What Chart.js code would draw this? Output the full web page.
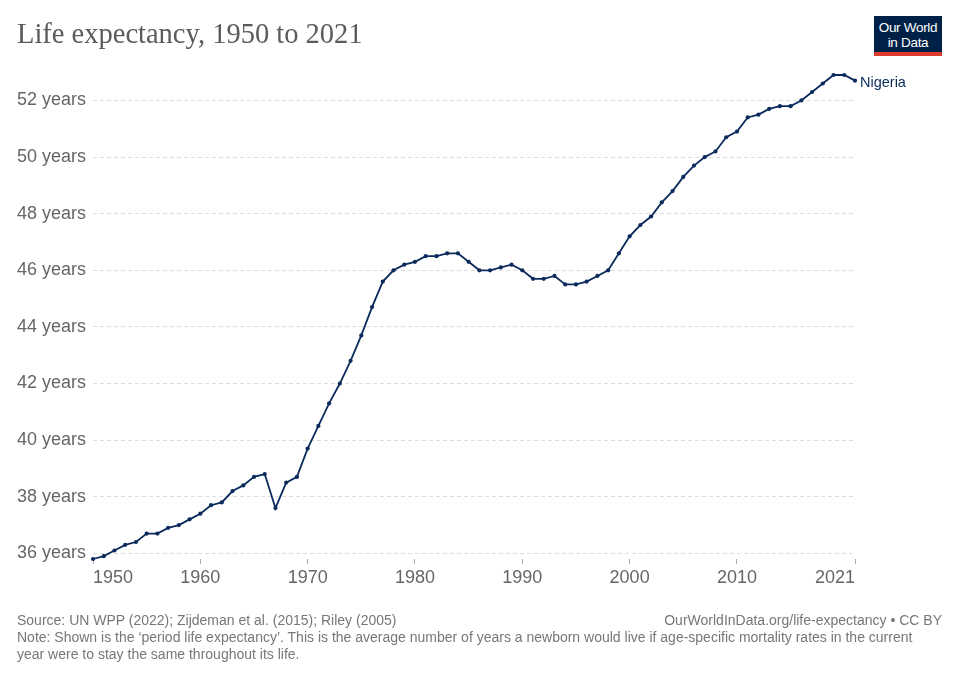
<!DOCTYPE html>
<html>
<head>
<meta charset="utf-8">
<script src="https://cdn.jsdelivr.net/npm/chart.js@4.4.1/dist/chart.umd.min.js"></script>
<style>
  html, body { margin: 0; padding: 0; background: #fff; }
  body { width: 960px; height: 678px; position: relative; overflow: hidden; font-family: "Liberation Sans", Arial, sans-serif; }
  #chart { position: absolute; left: 0; top: 0; }
  .title { position: absolute; left: 17px; top: 18px; font-family: "Liberation Serif", serif; font-size: 28.5px; color: #5b5b5b; white-space: nowrap; }
  .logo { position: absolute; left: 874px; top: 16px; width: 68px; height: 40px; background: #002147; color: #fff; text-align: center; font-size: 13.5px; line-height: 15px; box-sizing: border-box; padding-top: 4px; letter-spacing: -0.3px; }
  .logo .bar { position: absolute; left: 0; bottom: 0; width: 100%; height: 4px; background: #dc3a2a; }
  .foot { position: absolute; font-size: 14px; color: #777; white-space: nowrap; }
</style>
</head>
<body>
<canvas id="chart" width="960" height="678"></canvas>
<div class="title">Life expectancy, 1950 to 2021</div>
<div class="logo">Our World<br>in Data<div class="bar"></div></div>
<div class="foot" style="left:17px; top:612px;">Source: UN WPP (2022); Zijdeman et al. (2015); Riley (2005)</div>
<div class="foot" style="right:18px; top:612px;">OurWorldInData.org/life-expectancy • CC BY</div>
<div class="foot" style="left:17px; top:629px; line-height:17px; white-space:normal; width:925px;">Note: Shown is the ‘period life expectancy’. This is the average number of years a newborn would live if age-specific mortality rates in the current year were to stay the same throughout its life.</div>
<script>
// Nigeria, life expectancy at birth (years)
const years = [
  1950, 1951, 1952, 1953, 1954, 1955, 1956, 1957, 1958, 1959,
  1960, 1961, 1962, 1963, 1964, 1965, 1966, 1967, 1968, 1969,
  1970, 1971, 1972, 1973, 1974, 1975, 1976, 1977, 1978, 1979,
  1980, 1981, 1982, 1983, 1984, 1985, 1986, 1987, 1988, 1989,
  1990, 1991, 1992, 1993, 1994, 1995, 1996, 1997, 1998, 1999,
  2000, 2001, 2002, 2003, 2004, 2005, 2006, 2007, 2008, 2009,
  2010, 2011, 2012, 2013, 2014, 2015, 2016, 2017, 2018, 2019,
  2020, 2021
];
const nigeria = [
  35.8, 35.9, 36.1, 36.3, 36.4, 36.7, 36.7, 36.9, 37.0, 37.2,
  37.4, 37.7, 37.8, 38.2, 38.4, 38.7, 38.8, 37.6, 38.5, 38.7,
  39.7, 40.5, 41.3, 42.0, 42.8, 43.7, 44.7, 45.6, 46.0, 46.2,
  46.3, 46.5, 46.5, 46.6, 46.6, 46.3, 46.0, 46.0, 46.1, 46.2,
  46.0, 45.7, 45.7, 45.8, 45.5, 45.5, 45.6, 45.8, 46.0, 46.6,
  47.2, 47.6, 47.9, 48.4, 48.8, 49.3, 49.7, 50.0, 50.2, 50.7,
  50.9, 51.4, 51.5, 51.7, 51.8, 51.8, 52.0, 52.3, 52.6, 52.9,
  52.9, 52.7
];
const xTicks = [1950, 1960, 1970, 1980, 1990, 2000, 2010, 2021];
const yTicks = [36, 38, 40, 42, 44, 46, 48, 50, 52];

const lineColor = '#0b2b5c';

// draws the entity name next to the last point
const endLabel = {
  id: 'endLabel',
  afterDatasetsDraw(chart) {
    const meta = chart.getDatasetMeta(0);
    const last = meta.data[meta.data.length - 1];
    const ctx = chart.ctx;
    ctx.save();
    ctx.font = '14.5px "Liberation Sans", Arial, sans-serif';
    ctx.fillStyle = lineColor;
    ctx.textBaseline = 'middle';
    ctx.fillText(chart.data.datasets[0].label, last.x + 5, last.y + 2);
    ctx.restore();
  }
};

new Chart(document.getElementById('chart'), {
  type: 'line',
  data: {
    datasets: [{
      label: 'Nigeria',
      data: years.map((y, i) => ({ x: y, y: nigeria[i] })),
      borderColor: lineColor,
      backgroundColor: lineColor,
      borderWidth: 1.8,
      pointRadius: 2.1,
      pointBorderWidth: 0,
      pointHoverRadius: 2.1,
      tension: 0,
      clip: false
    }]
  },
  options: {
    responsive: false,
    animation: false,
    layout: { padding: { left: 0, right: 105, top: 75, bottom: 0 } },
    plugins: { legend: { display: false }, tooltip: { enabled: false } },
    scales: {
      x: {
        type: 'linear',
        min: 1950,
        max: 2021,
        afterBuildTicks: (scale) => { scale.ticks = xTicks.map(v => ({ value: v })); },
        afterFit: (scale) => { scale.height = 119; },
        grid: { drawOnChartArea: false, drawTicks: true, tickLength: 5, tickColor: '#aaa' },
        border: { display: false },
        ticks: {
          align: 'inner',
          autoSkip: false,
          maxRotation: 0,
          padding: 3,
          color: '#666',
          font: { family: '"Liberation Sans", Arial, sans-serif', size: 18 },
          callback: (v) => String(v)
        }
      },
      y: {
        min: 35.8,
        max: 52.9,
        afterBuildTicks: (scale) => { scale.ticks = yTicks.map(v => ({ value: v })); },
        afterFit: (scale) => { scale.width = 93; },
        grid: { color: '#dddddd', lineWidth: 1, drawTicks: false },
        border: { display: false, dash: [4, 3] },
        ticks: {
          padding: 7,
          color: '#666',
          font: { family: '"Liberation Sans", Arial, sans-serif', size: 18 },
          callback: (v) => v + ' years'
        }
      }
    }
  },
  plugins: [endLabel]
});
</script>
</body>
</html>
